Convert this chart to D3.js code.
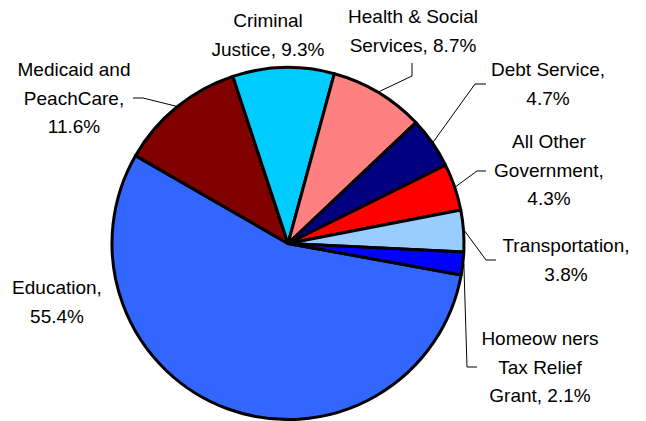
<!DOCTYPE html>
<html lang="en">
<head>
    <meta charset="UTF-8">
    <title>Budget Pie</title>
    <style>
        body { margin: 0; background: #fff; }
        text { font-family: "Liberation Sans", Arial, sans-serif; font-size: 19px; fill: #000; }
    </style>
</head>
<body>
<script src="https://d3js.org/d3.v7.min.js"></script>
<script>
    // data
    let categories = ["Education", "Medicaid and PeachCare", "Criminal Justice", "Health & Social Services",
        "Debt Service", "All Other Government", "Transportation", "Homeowners Tax Relief Grant"];
    let values = [55.4, 11.6, 9.3, 8.7, 4.7, 4.3, 3.8, 2.1];
    let labelLines = [
        ["Education,", "55.4%"],
        ["Medicaid and", "PeachCare,", "11.6%"],
        ["Criminal", "Justice, 9.3%"],
        ["Health & Social", "Services, 8.7%"],
        ["Debt Service,", "4.7%"],
        ["All Other", "Government,", "4.3%"],
        ["Transportation,", "3.8%"],
        ["Homeow ners", "Tax Relief", "Grant, 2.1%"]
    ];
    let colors = ["#3366ff", "#800000", "#00ccff", "#ff8080", "#000080", "#ff0000", "#99ccff", "#0000ff"];

    // layout: label centre x, first baseline y, leader knee and end (null = no leader)
    let labelPos = [
        {x: 57, y: 294, knee: null, end: null},
        {x: 74, y: 76, knee: [143, 98], end: [133, 98]},
        {x: 268, y: 27, knee: null, end: null},
        {x: 413, y: 23, knee: [412, 76], end: [412, 63]},
        {x: 548, y: 76, knee: [475, 84], end: [486, 84]},
        {x: 549, y: 148, knee: [477, 171], end: [486, 171]},
        {x: 566, y: 252, knee: [486, 260], end: [496, 260]},
        {x: 540, y: 345, knee: [467, 367], end: [477, 367]}
    ];
    let lineGap = 28.7;

    let w = 646, h = 421;
    let cx = 288, cy = 243.5, r = 176;

    let svg = d3.select("body").append("svg")
        .attr("width", w)
        .attr("height", h);

    let pie = d3.pie()
        .sort(null)
        .value(d => d)
        .startAngle(100.3 * Math.PI / 180)
        .endAngle(100.3 * Math.PI / 180 + 2 * Math.PI);

    let arcs = pie(values);
    let arc = d3.arc().innerRadius(0).outerRadius(r);

    let g = svg.append("g").attr("transform", "translate(" + cx + "," + cy + ")");

    g.selectAll("path")
        .data(arcs)
        .enter()
        .append("path")
        .attr("d", arc)
        .attr("fill", (d, i) => colors[i])
        .attr("stroke", "#000")
        .attr("stroke-width", 3)
        .attr("stroke-linejoin", "round");

    // leader lines
    arcs.forEach(function (d, i) {
        let p = labelPos[i];
        if (!p.knee) return;
        let a = (d.startAngle + d.endAngle) / 2;
        let sx = cx + (r + 1) * Math.sin(a), sy = cy - (r + 1) * Math.cos(a);
        svg.append("polyline")
            .attr("points", [[sx, sy], p.knee, p.end].map(q => q.join(",")).join(" "))
            .attr("fill", "none")
            .attr("stroke", "#000")
            .attr("stroke-width", 1);
    });

    // labels
    labelLines.forEach(function (lines, i) {
        let p = labelPos[i];
        let t = svg.append("text")
            .attr("text-anchor", "middle");
        lines.forEach(function (s, j) {
            t.append("tspan")
                .attr("x", p.x)
                .attr("y", p.y + j * lineGap)
                .text(s);
        });
    });
</script>
</body>
</html>
